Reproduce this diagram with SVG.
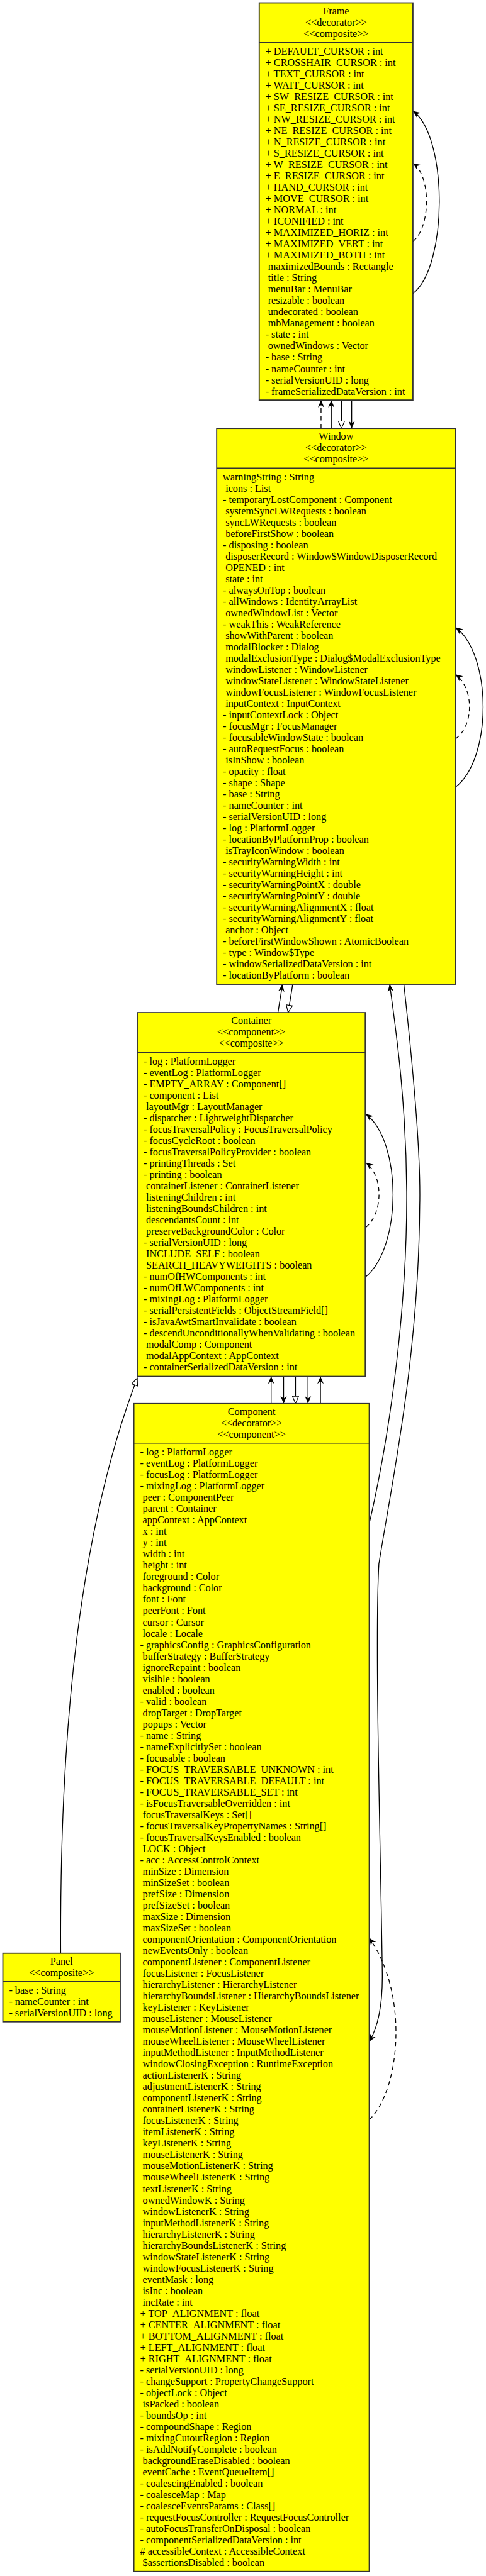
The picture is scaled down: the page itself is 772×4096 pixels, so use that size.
<svg xmlns="http://www.w3.org/2000/svg" width="772" height="4096" viewBox="0 0 772 4096">
<style>
.b{fill:#ffff00;stroke:#333;stroke-width:2}
.s{stroke:#333;stroke-width:1.6}
.t{font-family:"Liberation Serif","Times New Roman",serif;font-size:18px;fill:#000}
.c{text-anchor:middle}
.e{fill:none;stroke:#000;stroke-width:1.5}
.d{stroke-dasharray:8,6}
.av{marker-end:url(#av)}
.tr{marker-end:url(#tri)}
</style>
<defs>
<marker id="av" viewBox="0 0 14 12" refX="13" refY="6" markerWidth="14" markerHeight="12" orient="auto" markerUnits="userSpaceOnUse"><path d="M0,0.5 L13,6 L0,11.5 L4,6 z" fill="#000"/></marker>
<marker id="tri" viewBox="0 0 15 13" refX="14" refY="6.5" markerWidth="15" markerHeight="13" orient="auto" markerUnits="userSpaceOnUse"><path d="M1,1 L14,6.5 L1,12 z" fill="#fff" stroke="#000" stroke-width="1.3"/></marker>
</defs>
<rect width="772" height="4096" fill="#fff"/>
<g transform="scale(0.901)">
<g id="connectors">
<path class="e d av" d="M566,756 L566,706"/>
<path class="e av" d="M584,756 L584,706"/>
<path class="e tr" d="M602,706 L602,756"/>
<path class="e av" d="M620,706 L620,756"/>
<path class="e av" d="M490,1787 L498,1737"/>
<path class="e tr" d="M516,1737 L508,1787"/>
<path class="e av" d="M651,2689 C690,2520 718,2300 717,2103 C716,1950 700,1830 687,1737"/>
<path class="e av" d="M712,1737 C730,1900 742,2050 740,2128 C738,2400 690,2620 668,2760 C660,2900 672,3300 674,3480 C675,3540 665,3580 651,3603"/>
<path class="e d av" d="M651,3741 C705,3690 722,3520 651,3420"/>
<path class="e av" d="M478,2477 L478,2429"/>
<path class="e av" d="M500,2429 L500,2477"/>
<path class="e tr" d="M521,2429 L521,2477"/>
<path class="e av" d="M543,2429 L543,2477"/>
<path class="e av" d="M565,2477 L565,2429"/>
<path class="e tr" d="M107,3447 C105,3050 140,2700 242,2432"/>
<path class="e av" d="M728,518 C790,470 790,240 728,196"/>
<path class="e d av" d="M728,426 C760,400 760,310 728,288"/>
<path class="e av" d="M803,1389 C868,1340 868,1155 803,1107"/>
<path class="e d av" d="M803,1304 C836,1280 836,1215 803,1190"/>
<path class="e av" d="M645,2253 C709,2200 709,2015 645,1966"/>
<path class="e d av" d="M645,2166 C676,2140 676,2075 645,2052"/>
</g>
<g id="frame">
<rect class="b" x="457" y="5" width="271" height="701"/>
<line class="s" x1="457" y1="75" x2="728" y2="75"/>
<text class="t c"><tspan x="592.5" y="25.5">Frame</tspan><tspan x="592.5" dy="20">&lt;&lt;decorator&gt;&gt;</tspan><tspan x="592.5" dy="20">&lt;&lt;composite&gt;&gt;</tspan></text>
<text class="t"><tspan x="468" y="96.5">+ DEFAULT_CURSOR : int</tspan><tspan x="468" dy="20">+ CROSSHAIR_CURSOR : int</tspan><tspan x="468" dy="20">+ TEXT_CURSOR : int</tspan><tspan x="468" dy="20">+ WAIT_CURSOR : int</tspan><tspan x="468" dy="20">+ SW_RESIZE_CURSOR : int</tspan><tspan x="468" dy="20">+ SE_RESIZE_CURSOR : int</tspan><tspan x="468" dy="20">+ NW_RESIZE_CURSOR : int</tspan><tspan x="468" dy="20">+ NE_RESIZE_CURSOR : int</tspan><tspan x="468" dy="20">+ N_RESIZE_CURSOR : int</tspan><tspan x="468" dy="20">+ S_RESIZE_CURSOR : int</tspan><tspan x="468" dy="20">+ W_RESIZE_CURSOR : int</tspan><tspan x="468" dy="20">+ E_RESIZE_CURSOR : int</tspan><tspan x="468" dy="20">+ HAND_CURSOR : int</tspan><tspan x="468" dy="20">+ MOVE_CURSOR : int</tspan><tspan x="468" dy="20">+ NORMAL : int</tspan><tspan x="468" dy="20">+ ICONIFIED : int</tspan><tspan x="468" dy="20">+ MAXIMIZED_HORIZ : int</tspan><tspan x="468" dy="20">+ MAXIMIZED_VERT : int</tspan><tspan x="468" dy="20">+ MAXIMIZED_BOTH : int</tspan><tspan x="472.5" dy="20">maximizedBounds : Rectangle</tspan><tspan x="472.5" dy="20">title : String</tspan><tspan x="472.5" dy="20">menuBar : MenuBar</tspan><tspan x="472.5" dy="20">resizable : boolean</tspan><tspan x="472.5" dy="20">undecorated : boolean</tspan><tspan x="472.5" dy="20">mbManagement : boolean</tspan><tspan x="468" dy="20">- state : int</tspan><tspan x="472.5" dy="20">ownedWindows : Vector</tspan><tspan x="468" dy="20">- base : String</tspan><tspan x="468" dy="20">- nameCounter : int</tspan><tspan x="468" dy="20">- serialVersionUID : long</tspan><tspan x="468" dy="20">- frameSerializedDataVersion : int</tspan></text>
</g>
<g id="window">
<rect class="b" x="382" y="756" width="421" height="981"/>
<line class="s" x1="382" y1="826" x2="803" y2="826"/>
<text class="t c"><tspan x="592.5" y="776">Window</tspan><tspan x="592.5" dy="20">&lt;&lt;decorator&gt;&gt;</tspan><tspan x="592.5" dy="20">&lt;&lt;composite&gt;&gt;</tspan></text>
<text class="t"><tspan x="393" y="847.5">warningString : String</tspan><tspan x="397.5" dy="20">icons : List</tspan><tspan x="393" dy="20">- temporaryLostComponent : Component</tspan><tspan x="397.5" dy="20">systemSyncLWRequests : boolean</tspan><tspan x="397.5" dy="20">syncLWRequests : boolean</tspan><tspan x="397.5" dy="20">beforeFirstShow : boolean</tspan><tspan x="393" dy="20">- disposing : boolean</tspan><tspan x="397.5" dy="20">disposerRecord : Window$WindowDisposerRecord</tspan><tspan x="397.5" dy="20">OPENED : int</tspan><tspan x="397.5" dy="20">state : int</tspan><tspan x="393" dy="20">- alwaysOnTop : boolean</tspan><tspan x="393" dy="20">- allWindows : IdentityArrayList</tspan><tspan x="397.5" dy="20">ownedWindowList : Vector</tspan><tspan x="393" dy="20">- weakThis : WeakReference</tspan><tspan x="397.5" dy="20">showWithParent : boolean</tspan><tspan x="397.5" dy="20">modalBlocker : Dialog</tspan><tspan x="397.5" dy="20">modalExclusionType : Dialog$ModalExclusionType</tspan><tspan x="397.5" dy="20">windowListener : WindowListener</tspan><tspan x="397.5" dy="20">windowStateListener : WindowStateListener</tspan><tspan x="397.5" dy="20">windowFocusListener : WindowFocusListener</tspan><tspan x="397.5" dy="20">inputContext : InputContext</tspan><tspan x="393" dy="20">- inputContextLock : Object</tspan><tspan x="393" dy="20">- focusMgr : FocusManager</tspan><tspan x="393" dy="20">- focusableWindowState : boolean</tspan><tspan x="393" dy="20">- autoRequestFocus : boolean</tspan><tspan x="397.5" dy="20">isInShow : boolean</tspan><tspan x="393" dy="20">- opacity : float</tspan><tspan x="393" dy="20">- shape : Shape</tspan><tspan x="393" dy="20">- base : String</tspan><tspan x="393" dy="20">- nameCounter : int</tspan><tspan x="393" dy="20">- serialVersionUID : long</tspan><tspan x="393" dy="20">- log : PlatformLogger</tspan><tspan x="393" dy="20">- locationByPlatformProp : boolean</tspan><tspan x="397.5" dy="20">isTrayIconWindow : boolean</tspan><tspan x="393" dy="20">- securityWarningWidth : int</tspan><tspan x="393" dy="20">- securityWarningHeight : int</tspan><tspan x="393" dy="20">- securityWarningPointX : double</tspan><tspan x="393" dy="20">- securityWarningPointY : double</tspan><tspan x="393" dy="20">- securityWarningAlignmentX : float</tspan><tspan x="393" dy="20">- securityWarningAlignmentY : float</tspan><tspan x="397.5" dy="20">anchor : Object</tspan><tspan x="393" dy="20">- beforeFirstWindowShown : AtomicBoolean</tspan><tspan x="393" dy="20">- type : Window$Type</tspan><tspan x="393" dy="20">- windowSerializedDataVersion : int</tspan><tspan x="393" dy="20">- locationByPlatform : boolean</tspan></text>
</g>
<g id="container">
<rect class="b" x="242" y="1787" width="402" height="642"/>
<line class="s" x1="242" y1="1857" x2="644" y2="1857"/>
<text class="t c"><tspan x="443" y="1807">Container</tspan><tspan x="443" dy="20">&lt;&lt;component&gt;&gt;</tspan><tspan x="443" dy="20">&lt;&lt;composite&gt;&gt;</tspan></text>
<text class="t"><tspan x="253" y="1878.5">- log : PlatformLogger</tspan><tspan x="253" dy="20">- eventLog : PlatformLogger</tspan><tspan x="253" dy="20">- EMPTY_ARRAY : Component[]</tspan><tspan x="253" dy="20">- component : List</tspan><tspan x="257.5" dy="20">layoutMgr : LayoutManager</tspan><tspan x="253" dy="20">- dispatcher : LightweightDispatcher</tspan><tspan x="253" dy="20">- focusTraversalPolicy : FocusTraversalPolicy</tspan><tspan x="253" dy="20">- focusCycleRoot : boolean</tspan><tspan x="253" dy="20">- focusTraversalPolicyProvider : boolean</tspan><tspan x="253" dy="20">- printingThreads : Set</tspan><tspan x="253" dy="20">- printing : boolean</tspan><tspan x="257.5" dy="20">containerListener : ContainerListener</tspan><tspan x="257.5" dy="20">listeningChildren : int</tspan><tspan x="257.5" dy="20">listeningBoundsChildren : int</tspan><tspan x="257.5" dy="20">descendantsCount : int</tspan><tspan x="257.5" dy="20">preserveBackgroundColor : Color</tspan><tspan x="253" dy="20">- serialVersionUID : long</tspan><tspan x="257.5" dy="20">INCLUDE_SELF : boolean</tspan><tspan x="257.5" dy="20">SEARCH_HEAVYWEIGHTS : boolean</tspan><tspan x="253" dy="20">- numOfHWComponents : int</tspan><tspan x="253" dy="20">- numOfLWComponents : int</tspan><tspan x="253" dy="20">- mixingLog : PlatformLogger</tspan><tspan x="253" dy="20">- serialPersistentFields : ObjectStreamField[]</tspan><tspan x="253" dy="20">- isJavaAwtSmartInvalidate : boolean</tspan><tspan x="253" dy="20">- descendUnconditionallyWhenValidating : boolean</tspan><tspan x="257.5" dy="20">modalComp : Component</tspan><tspan x="257.5" dy="20">modalAppContext : AppContext</tspan><tspan x="253" dy="20">- containerSerializedDataVersion : int</tspan></text>
</g>
<g id="component">
<rect class="b" x="236" y="2477" width="415" height="2061"/>
<line class="s" x1="236" y1="2547" x2="651" y2="2547"/>
<text class="t c"><tspan x="443.5" y="2497">Component</tspan><tspan x="443.5" dy="20">&lt;&lt;decorator&gt;&gt;</tspan><tspan x="443.5" dy="20">&lt;&lt;component&gt;&gt;</tspan></text>
<text class="t"><tspan x="247" y="2568.5">- log : PlatformLogger</tspan><tspan x="247" dy="20">- eventLog : PlatformLogger</tspan><tspan x="247" dy="20">- focusLog : PlatformLogger</tspan><tspan x="247" dy="20">- mixingLog : PlatformLogger</tspan><tspan x="251.5" dy="20">peer : ComponentPeer</tspan><tspan x="251.5" dy="20">parent : Container</tspan><tspan x="251.5" dy="20">appContext : AppContext</tspan><tspan x="251.5" dy="20">x : int</tspan><tspan x="251.5" dy="20">y : int</tspan><tspan x="251.5" dy="20">width : int</tspan><tspan x="251.5" dy="20">height : int</tspan><tspan x="251.5" dy="20">foreground : Color</tspan><tspan x="251.5" dy="20">background : Color</tspan><tspan x="251.5" dy="20">font : Font</tspan><tspan x="251.5" dy="20">peerFont : Font</tspan><tspan x="251.5" dy="20">cursor : Cursor</tspan><tspan x="251.5" dy="20">locale : Locale</tspan><tspan x="247" dy="20">- graphicsConfig : GraphicsConfiguration</tspan><tspan x="251.5" dy="20">bufferStrategy : BufferStrategy</tspan><tspan x="251.5" dy="20">ignoreRepaint : boolean</tspan><tspan x="251.5" dy="20">visible : boolean</tspan><tspan x="251.5" dy="20">enabled : boolean</tspan><tspan x="247" dy="20">- valid : boolean</tspan><tspan x="251.5" dy="20">dropTarget : DropTarget</tspan><tspan x="251.5" dy="20">popups : Vector</tspan><tspan x="247" dy="20">- name : String</tspan><tspan x="247" dy="20">- nameExplicitlySet : boolean</tspan><tspan x="247" dy="20">- focusable : boolean</tspan><tspan x="247" dy="20">- FOCUS_TRAVERSABLE_UNKNOWN : int</tspan><tspan x="247" dy="20">- FOCUS_TRAVERSABLE_DEFAULT : int</tspan><tspan x="247" dy="20">- FOCUS_TRAVERSABLE_SET : int</tspan><tspan x="247" dy="20">- isFocusTraversableOverridden : int</tspan><tspan x="251.5" dy="20">focusTraversalKeys : Set[]</tspan><tspan x="247" dy="20">- focusTraversalKeyPropertyNames : String[]</tspan><tspan x="247" dy="20">- focusTraversalKeysEnabled : boolean</tspan><tspan x="251.5" dy="20">LOCK : Object</tspan><tspan x="247" dy="20">- acc : AccessControlContext</tspan><tspan x="251.5" dy="20">minSize : Dimension</tspan><tspan x="251.5" dy="20">minSizeSet : boolean</tspan><tspan x="251.5" dy="20">prefSize : Dimension</tspan><tspan x="251.5" dy="20">prefSizeSet : boolean</tspan><tspan x="251.5" dy="20">maxSize : Dimension</tspan><tspan x="251.5" dy="20">maxSizeSet : boolean</tspan><tspan x="251.5" dy="20">componentOrientation : ComponentOrientation</tspan><tspan x="251.5" dy="20">newEventsOnly : boolean</tspan><tspan x="251.5" dy="20">componentListener : ComponentListener</tspan><tspan x="251.5" dy="20">focusListener : FocusListener</tspan><tspan x="251.5" dy="20">hierarchyListener : HierarchyListener</tspan><tspan x="251.5" dy="20">hierarchyBoundsListener : HierarchyBoundsListener</tspan><tspan x="251.5" dy="20">keyListener : KeyListener</tspan><tspan x="251.5" dy="20">mouseListener : MouseListener</tspan><tspan x="251.5" dy="20">mouseMotionListener : MouseMotionListener</tspan><tspan x="251.5" dy="20">mouseWheelListener : MouseWheelListener</tspan><tspan x="251.5" dy="20">inputMethodListener : InputMethodListener</tspan><tspan x="251.5" dy="20">windowClosingException : RuntimeException</tspan><tspan x="251.5" dy="20">actionListenerK : String</tspan><tspan x="251.5" dy="20">adjustmentListenerK : String</tspan><tspan x="251.5" dy="20">componentListenerK : String</tspan><tspan x="251.5" dy="20">containerListenerK : String</tspan><tspan x="251.5" dy="20">focusListenerK : String</tspan><tspan x="251.5" dy="20">itemListenerK : String</tspan><tspan x="251.5" dy="20">keyListenerK : String</tspan><tspan x="251.5" dy="20">mouseListenerK : String</tspan><tspan x="251.5" dy="20">mouseMotionListenerK : String</tspan><tspan x="251.5" dy="20">mouseWheelListenerK : String</tspan><tspan x="251.5" dy="20">textListenerK : String</tspan><tspan x="251.5" dy="20">ownedWindowK : String</tspan><tspan x="251.5" dy="20">windowListenerK : String</tspan><tspan x="251.5" dy="20">inputMethodListenerK : String</tspan><tspan x="251.5" dy="20">hierarchyListenerK : String</tspan><tspan x="251.5" dy="20">hierarchyBoundsListenerK : String</tspan><tspan x="251.5" dy="20">windowStateListenerK : String</tspan><tspan x="251.5" dy="20">windowFocusListenerK : String</tspan><tspan x="251.5" dy="20">eventMask : long</tspan><tspan x="251.5" dy="20">isInc : boolean</tspan><tspan x="251.5" dy="20">incRate : int</tspan><tspan x="247" dy="20">+ TOP_ALIGNMENT : float</tspan><tspan x="247" dy="20">+ CENTER_ALIGNMENT : float</tspan><tspan x="247" dy="20">+ BOTTOM_ALIGNMENT : float</tspan><tspan x="247" dy="20">+ LEFT_ALIGNMENT : float</tspan><tspan x="247" dy="20">+ RIGHT_ALIGNMENT : float</tspan><tspan x="247" dy="20">- serialVersionUID : long</tspan><tspan x="247" dy="20">- changeSupport : PropertyChangeSupport</tspan><tspan x="247" dy="20">- objectLock : Object</tspan><tspan x="251.5" dy="20">isPacked : boolean</tspan><tspan x="247" dy="20">- boundsOp : int</tspan><tspan x="247" dy="20">- compoundShape : Region</tspan><tspan x="247" dy="20">- mixingCutoutRegion : Region</tspan><tspan x="247" dy="20">- isAddNotifyComplete : boolean</tspan><tspan x="251.5" dy="20">backgroundEraseDisabled : boolean</tspan><tspan x="251.5" dy="20">eventCache : EventQueueItem[]</tspan><tspan x="247" dy="20">- coalescingEnabled : boolean</tspan><tspan x="247" dy="20">- coalesceMap : Map</tspan><tspan x="247" dy="20">- coalesceEventsParams : Class[]</tspan><tspan x="247" dy="20">- requestFocusController : RequestFocusController</tspan><tspan x="247" dy="20">- autoFocusTransferOnDisposal : boolean</tspan><tspan x="247" dy="20">- componentSerializedDataVersion : int</tspan><tspan x="247" dy="20"># accessibleContext : AccessibleContext</tspan><tspan x="251.5" dy="20">$assertionsDisabled : boolean</tspan></text>
</g>
<g id="panel">
<rect class="b" x="5" y="3447" width="207" height="121"/>
<line class="s" x1="5" y1="3497" x2="212" y2="3497"/>
<text class="t c"><tspan x="108.5" y="3467">Panel</tspan><tspan x="108.5" dy="20">&lt;&lt;composite&gt;&gt;</tspan></text>
<text class="t"><tspan x="16" y="3518.5">- base : String</tspan><tspan x="16" dy="20">- nameCounter : int</tspan><tspan x="16" dy="20">- serialVersionUID : long</tspan></text>
</g>
</g>
</svg>
